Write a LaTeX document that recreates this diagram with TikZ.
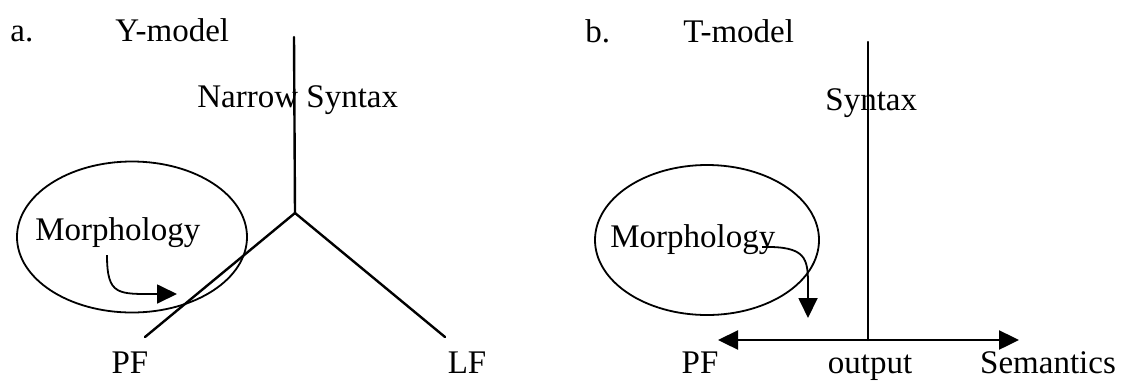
\documentclass[tikz,border=0pt]{standalone}
\usepackage{fontspec}
\setmainfont{Liberation Serif}
\usetikzlibrary{arrows.meta,shapes.geometric}
\tikzset{
  lbl/.style={inner sep=0pt, anchor=base west, font=\fontsize{16.5}{19}\selectfont},
  lblc/.style={inner sep=0pt, anchor=base, font=\fontsize{16.5}{19}\selectfont},
  ln/.style={line width=1.2pt, line cap=round},
  tri/.style={-{Triangle[length=10pt,width=9.5pt]}},
  ell/.style={draw, ellipse, line width=0.9pt, inner sep=0pt}
}
\begin{document}
\begin{tikzpicture}[x=0.5pt,y=-0.5pt]
\useasboundingbox (0,0) rectangle (1128,381);
% ---------- panel a ----------
\node[lbl] (la) at (10,41) {a.};
\node[lbl] (ya) at (115,41) {Y-model};
\node[lbl] (ns) at (197,107) {Narrow Syntax};
\node[ell, minimum width=115pt, minimum height=75.5pt] (ella) at (132,237) {};
\node[lbl] (morpha) at (35,240) {Morphology};
\node[lblc] (pfa) at (130,373) {PF};
\node[lblc] (lfa) at (467,373) {LF};
\coordinate (topa) at (294,37);
\coordinate (ja) at (295,213);
\coordinate (pfe) at (145,337);
\coordinate (lfe) at (445,337);
\draw[ln] (topa) -- (ja);
\draw[ln] (ja) -- (pfe);
\draw[ln] (ja) -- (lfe);
\coordinate (ma1) at (107,255);
\coordinate (ma2) at (177,294);
\draw[line width=0.9pt, tri] (ma1) .. controls (107,296) and (118,294) .. (ma2);
% ---------- panel b ----------
\node[lbl] (lb) at (585,42) {b.};
\node[lbl] (tb) at (683,42) {T-model};
\node[lbl] (syn) at (825,110) {Syntax};
\node[ell, minimum width=112pt, minimum height=75pt] (ellb) at (707,240) {};
\node[lbl] (morphb) at (610,247) {Morphology};
\node[lblc] (pfb) at (700,373) {PF};
\node[lblc] (outb) at (870,373) {output};
\node[lblc] (semb) at (1048,373) {Semantics};
\coordinate (topb) at (868,42);
\coordinate (jb) at (868,340);
\coordinate (pfl) at (718,340);
\coordinate (semr) at (1019,340);
\draw[ln] (topb) -- (jb);
\draw[ln, tri] (jb) -- (pfl);
\draw[ln, tri] (jb) -- (semr);
\coordinate (mb1) at (762,247);
\coordinate (mb2) at (808,318);
\draw[line width=0.9pt, tri] (mb1) .. controls (806,246) and (808,258) .. (808,285) -- (mb2);
\end{tikzpicture}
\end{document}
